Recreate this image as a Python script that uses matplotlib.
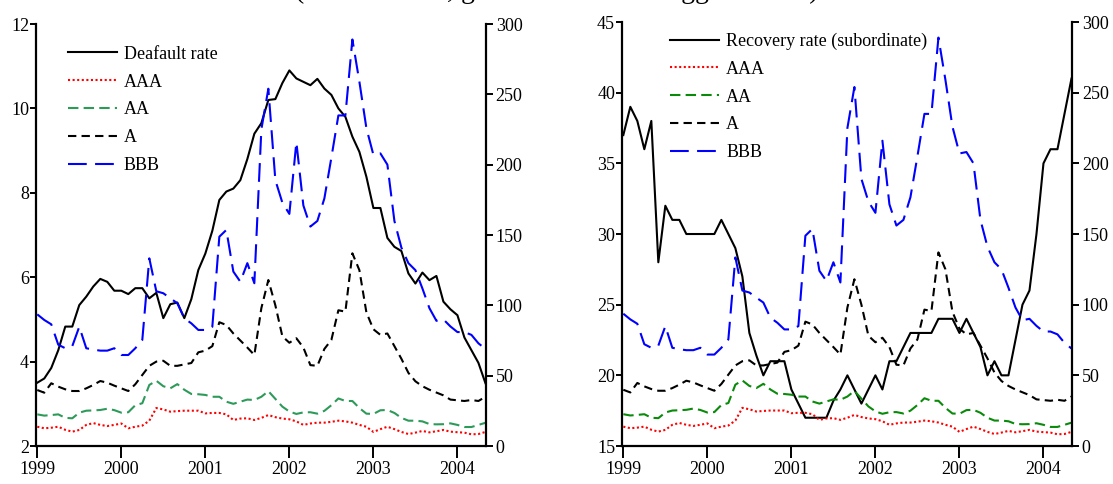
#!/usr/bin/env python3
"""Default / recovery rates against rating-grade spreads, monthly 1999-2004."""
import matplotlib
matplotlib.use("Agg")
import matplotlib.pyplot as plt
import numpy as np

plt.rcParams["font.family"] = ["Liberation Serif", "DejaVu Serif"]
plt.rcParams["font.size"] = 13

# monthly observations, Jan 1999 .. May 2004
start_year = 1999
n_months = 65

default_rate = [3.5, 3.6, 3.85, 4.27, 4.83, 4.83, 5.34, 5.54, 5.78, 5.96,
                5.89, 5.68, 5.68, 5.6, 5.74, 5.74, 5.5, 5.63, 5.03, 5.36,
                5.4, 5.03, 5.48, 6.17, 6.56, 7.1, 7.83, 8.03, 8.1, 8.3,
                8.8, 9.4, 9.65, 10.2, 10.22, 10.6, 10.9, 10.71, 10.63, 10.55,
                10.7, 10.47, 10.32, 10.0, 9.8, 9.33, 8.97, 8.38, 7.64, 7.64,
                6.93, 6.72, 6.62, 6.09, 5.85, 6.11, 5.93, 6.03, 5.42, 5.24,
                5.1, 4.57, 4.27, 3.97, 3.49]

recovery_rate = [37, 39, 38, 36, 38, 28, 32, 31, 31, 30,
                 30, 30, 30, 30, 31, 30, 29, 27, 23, 21.4,
                 20, 21, 21, 21, 19, 18, 17, 17, 17, 17,
                 18.2, 19, 20, 19, 18, 19, 20, 19, 21, 21,
                 22, 23, 23, 23, 23, 24, 24, 24, 23, 24,
                 23, 22, 20, 21, 20, 20, 22.5, 25, 26, 30,
                 35, 36, 36, 38.5, 41]

# spreads in basis points
aaa = [13.7, 12.6, 13, 13.7, 11.5, 10.2, 11.4, 15, 16.3, 15,
       14.2, 15, 16, 12.6, 13.7, 14.5, 18, 27, 26, 24.4,
       24.8, 25.1, 25.1, 25.1, 23.2, 23.5, 23.5, 22.5, 18.5, 19.5,
       19.7, 18.5, 20, 22, 20.5, 19.5, 19, 17.5, 15, 16,
       16.6, 16.6, 17.2, 18, 17.5, 16.6, 15, 13.7, 10, 12,
       13.7, 12, 10, 8.5, 9.5, 10.7, 9.7, 10.5, 11.4, 10.2,
       9.8, 9.5, 8.3, 8.5, 10]

aa = [22.5, 21.6, 22, 22.5, 20, 19.7, 23.7, 25.1, 25.3, 25.6,
      26.5, 25.5, 23.7, 24, 29, 30.4, 43.4, 46.4, 42.5, 41,
      44, 40, 37, 36.8, 36.3, 35, 35, 31.5, 30, 31.5,
      33, 32.7, 35, 39, 33.5, 28, 24.5, 22.8, 23.9, 24,
      23, 25, 29, 33.8, 32, 32, 27, 23, 22.8, 25.4,
      25.6, 23.5, 20, 18, 18, 17.5, 15.6, 15.4, 15.5, 16.1,
      15, 13.5, 13.5, 15, 16.5]

a = [39.8, 37.9, 44.6, 42.2, 40.3, 39.1, 39.1, 41, 43.4, 46.2,
     45, 42.9, 41, 39.1, 43.9, 50.5, 57, 60, 60.6, 57,
     57, 58, 59, 66.6, 67.8, 71, 88, 86, 80, 75,
     70, 64.7, 98, 118, 100, 78, 73.4, 76.6, 70, 57.5,
     57, 69, 75.4, 96.5, 95.5, 137, 125, 95, 83, 79,
     80, 71, 62, 52, 46, 42.5, 40, 38, 36, 33,
     32.5, 32, 32.7, 32, 35]

bbb = [93.6, 89.6, 86.5, 72, 69.5, 71, 84.8, 69.5, 68.5, 67.8,
       67.8, 69.5, 64.7, 64.7, 69.5, 75.4, 133.4, 110, 108.6, 105,
       101.5, 90.8, 87.2, 82.5, 82.5, 84.8, 148.8, 153.6, 124, 116.8,
       130, 115.7, 225, 254, 189, 173, 165, 216, 171, 156,
       160, 176, 205, 235, 235, 289, 259, 226, 207, 208,
       200, 160, 141, 130, 125, 112, 98, 89, 90, 85,
       81, 81, 79, 73, 69]

years = [1999, 2000, 2001, 2002, 2003, 2004]

t = start_year + np.arange(n_months) / 12.0

LW = 1.5
SPREAD_STYLES = [
    ("AAA", aaa, "#ff0000", (0, (1, 1.2))),
    ("AA", aa, None, (0, (5, 2.5))),
    ("A", a, "black", (0, (4, 2.5))),
    ("BBB", bbb, "#0000ff", (0, (9, 4))),
]


def style_axes(ax, ax2):
    for axis in (ax, ax2):
        axis.spines["top"].set_visible(False)
        axis.spines["left"].set_linewidth(1.6)
        axis.spines["bottom"].set_linewidth(1.6)
        axis.spines["right"].set_linewidth(1.6)
    ax.spines["right"].set_visible(False)
    ax2.spines["left"].set_visible(False)
    ax2.spines["bottom"].set_visible(False)
    ax.tick_params(axis="x", direction="out", length=8.5, width=1.4, pad=2)
    ax.tick_params(axis="y", direction="out", length=4, width=1.4, pad=1)
    ax2.tick_params(axis="y", direction="out", length=5, width=1.4, pad=2)
    ax.set_xlim(1998.985, 2004.34)
    ax.set_xticks(years)
    ax2.set_ylim(0, 300)
    ax2.set_yticks(range(0, 301, 50))


def panel(ax, main, main_label, ylim, yticks, aa_color, legend_xy):
    ax2 = ax.twinx()
    h_main, = ax.plot(t, main, color="black", lw=LW, label=main_label)
    handles = [h_main]
    for label, vals, color, ls in SPREAD_STYLES:
        c = aa_color if color is None else color
        h, = ax2.plot(t, vals, color=c, lw=LW, linestyle=ls, label=label)
        handles.append(h)
    ax.set_ylim(*ylim)
    ax.set_yticks(yticks)
    style_axes(ax, ax2)
    ax2.legend(handles=handles, loc="upper left", bbox_to_anchor=legend_xy,
               frameon=False, handlelength=2.7, handletextpad=0.4,
               labelspacing=0.6, borderpad=0, borderaxespad=0, fontsize=13)
    return ax2


fig = plt.figure(figsize=(11.13, 4.84), dpi=100)
ax_l = fig.add_axes([0.03235, 0.0785, 0.4043, 0.8719])
ax_r = fig.add_axes([0.5589, 0.0785, 0.4043, 0.876])

panel(ax_l, default_rate, "Deafault rate", (2, 12), range(2, 13, 2),
      "#2e9a5a", (0.071, 0.9485))
panel(ax_r, recovery_rate, "Recovery rate (subordinate)", (15, 45),
      range(15, 46, 5), "#0a8a0a", (0.107, 0.975))

# heading runs off the top edge of the page
fig.text(0.5, 1.004, "(Default rates, grade bond index lagged 6 mos)",
         ha="center", va="baseline", fontsize=20)

fig.savefig("out.png", dpi=100)
